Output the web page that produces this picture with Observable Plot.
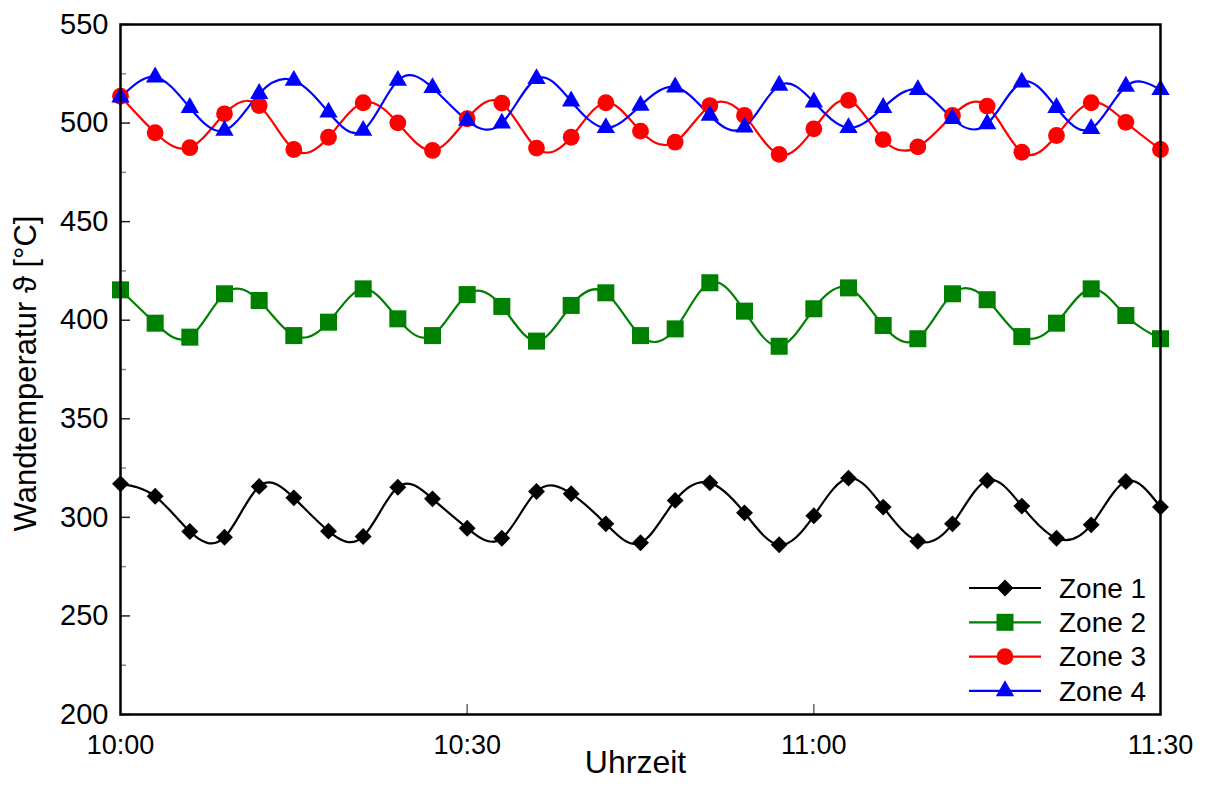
<!DOCTYPE html>
<html>
<head>
<meta charset="utf-8">
<script src="https://cdn.jsdelivr.net/npm/d3@7"></script>
<script src="https://cdn.jsdelivr.net/npm/@observablehq/plot@0.6"></script>
<style>
html, body { margin: 0; padding: 0; background: #fff; }
#wrap { position: relative; width: 1205px; height: 789px; font-family: "Liberation Sans", Arial, sans-serif; }
</style>
</head>
<body>
<div id="wrap"></div>
<script>
// ---- data ----
const times = ["10:00","10:03","10:06","10:09","10:12","10:15","10:18","10:21","10:24","10:27",
               "10:30","10:33","10:36","10:39","10:42","10:45","10:48","10:51","10:54","10:57",
               "11:00","11:03","11:06","11:09","11:12","11:15","11:18","11:21","11:24","11:27","11:30"];
const xTickLabels = ["10:00","10:30","11:00","11:30"];
const xInnerTicks = ["10:30","11:00"];
const yTickLabels = [200,250,300,350,400,450,500,550];
const yMinorTicks = [225,275,325,375,425,475,525];
const zones = ["Zone 1","Zone 2","Zone 3","Zone 4"];
const colors = ["#000000","#008000","#ff0000","#0000ff"];
const symbolNames = ["diamond2","square","circle","triangle"];
const symbolR = [7.6, 9.6, 8.4, 6.8];

const zone1 = [317.0,310.7,292.8,289.9,315.7,309.9,293.0,290.3,315.3,309.4,
               294.5,289.4,313.1,312.0,296.7,287.1,308.6,317.5,302.3,286.1,
               300.8,319.9,305.2,287.9,296.7,318.7,305.7,289.4,296.2,318.2,305.2];
const zone2 = [415.4,398.5,391.4,413.4,410.0,392.2,399.0,415.9,400.7,392.2,
               413.0,407.0,389.4,407.5,413.9,392.2,395.6,419.0,404.6,386.8,
               405.8,416.4,397.3,390.6,413.4,410.4,391.7,398.5,415.9,402.4,390.6];
const zone3 = [513.6,495.1,487.5,504.7,508.9,486.6,492.8,510.3,500.1,486.1,
               502.2,510.1,487.3,492.8,510.3,495.9,490.3,508.9,503.9,484.1,
               497.1,511.5,491.6,487.9,503.9,508.6,485.2,493.7,510.3,500.4,486.6];
const zone4 = [513.1,523.3,507.8,496.2,514.9,521.6,505.5,496.2,521.6,517.9,
               501.3,499.9,522.5,511.1,497.6,508.9,518.2,503.9,497.9,519.1,
               510.6,497.6,507.8,516.9,502.2,499.6,520.7,507.8,497.1,518.6,516.9];
const series = [zone1, zone2, zone3, zone4];

// ---- build table ----
const toMin = s => { const [h, m] = s.split(":").map(Number); return (h - 10) * 60 + m; };
const rows = [];
series.forEach((vals, z) => times.forEach((t, i) => rows.push({zone: zones[z], t: toMin(t), v: vals[i]})));
const xTickMin = xTickLabels.map(toMin);

const font = "Liberation Sans, Arial, Helvetica, sans-serif";

const chart = Plot.plot({
  width: 1205,
  height: 789,
  marginLeft: 120,
  marginRight: 45,
  marginTop: 24,
  marginBottom: 75,
  style: {fontFamily: font, background: "white", color: "black", overflow: "visible"},
  x: {domain: [xTickMin[0], xTickMin[xTickMin.length - 1]], label: null},
  y: {domain: [yTickLabels[0], yTickLabels[yTickLabels.length - 1]], label: null},
  color: {domain: zones, range: colors},
  marks: [
    Plot.line(rows, {x: "t", y: "v", z: "zone", stroke: "zone", curve: "natural", strokeWidth: 2.2}),
    ...zones.map((zn, k) => Plot.dot(rows.filter(d => d.zone === zn), {
      x: "t", y: "v", fill: colors[k], stroke: "none", symbol: symbolNames[k], r: symbolR[k]
    })),
    Plot.axisY({ticks: yMinorTicks, tickSize: -6, fill: "none", stroke: "#888", strokeWidth: 1.5, label: null}),
    Plot.axisY({ticks: yTickLabels, tickSize: -10, tickPadding: 22, fontSize: 29, fill: "black", stroke: "#222", strokeWidth: 1.5, label: null}),
    Plot.axisX({ticks: xInnerTicks.map(toMin), tickSize: -10, fill: "none", stroke: "#666", strokeWidth: 1.5, label: null}),
    Plot.axisX({ticks: xTickMin, tickSize: 0, tickPadding: 20, fontSize: 27, fill: "black",
      tickFormat: d => xTickLabels[xTickMin.indexOf(d)], label: null}),
    Plot.frame({stroke: "black", strokeWidth: 2.5}),
    Plot.text(["Uhrzeit"], {frameAnchor: "bottom", dy: 58, dx: -5, fontSize: 32, fill: "black"}),
    Plot.text(["Wandtemperatur ϑ [°C]"], {frameAnchor: "left", textAnchor: "middle", rotate: -90, dx: -94, dy: 4, fontSize: 31, fill: "black"})
  ]
});

const wrap = document.getElementById("wrap");
wrap.appendChild(chart);

// ---- legend (inside plot area, bottom right) ----
const symTypes = {diamond2: d3.symbolDiamond2, square: d3.symbolSquare, circle: d3.symbolCircle, triangle: d3.symbolTriangle};
const leg = d3.create("svg").attr("width", 200).attr("height", 140)
  .style("position", "absolute").style("left", "960px").style("top", "570px");
zones.forEach((zn, i) => {
  const g = leg.append("g").attr("transform", `translate(0,${18 + 34.3 * i})`);
  g.append("line").attr("x1", 9).attr("x2", 81).attr("y1", 0).attr("y2", 0)
    .attr("stroke", colors[i]).attr("stroke-width", 2.2);
  g.append("path").attr("transform", "translate(45,0)")
    .attr("d", d3.symbol(symTypes[symbolNames[i]], Math.PI * symbolR[i] * symbolR[i])())
    .attr("fill", colors[i]);
  g.append("text").attr("x", 99).attr("y", 0).attr("dy", "0.35em")
    .attr("font-family", font).attr("font-size", 28).attr("fill", "black").text(zn);
});
wrap.appendChild(leg.node());
</script>
</body>
</html>
